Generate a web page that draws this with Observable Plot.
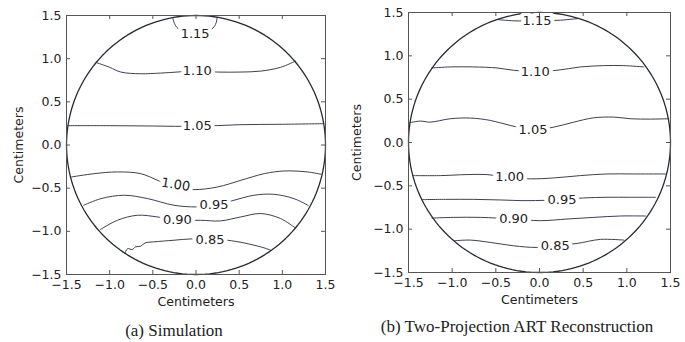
<!DOCTYPE html>
<html>
<head>
<meta charset="utf-8">
<script src="https://cdn.jsdelivr.net/npm/d3@7"></script>
<script src="https://cdn.jsdelivr.net/npm/@observablehq/plot@0.6"></script>
<style>
  html, body { margin: 0; padding: 0; background: #fff; }
  #fig { position: relative; width: 685px; height: 342px; overflow: hidden; }
  .panel { position: absolute; top: 0; }
  .cap { position: absolute; font-family: "Liberation Serif", "DejaVu Serif", serif; font-size: 17px; line-height: 1; color: #222; white-space: nowrap; transform: translateX(-50%); }
</style>
</head>
<body>
<div id="fig">
  <div id="left" class="panel" style="left:0px"></div>
  <div id="right" class="panel" style="left:340px"></div>
  <div class="cap" style="left:174px; top:322px">(a) Simulation</div>
  <div class="cap" style="left:517px; top:318px">(b) Two-Projection ART Reconstruction</div>
</div>
<script>
// ---- data ----
const levels = ["1.15", "1.10", "1.05", "1.00", "0.95", "0.90", "0.85"];
const tickValues = [-1.5, -1.0, -0.5, 0.0, 0.5, 1.0, 1.5];
const radius = 1.5;

// (a) Simulation contour lines, one array per level (same order as levels)
const simX = [
  [-0.27, -0.25, -0.22, -0.15, -0.05, 0.05, 0.15, 0.21, 0.235, 0.245],
  [-1.15, -1.00, -0.87, -0.64, -0.41, 0.015, 0.25, 0.52, 0.75, 0.98, 1.153],
  [-1.483, -1.0, -0.5, 0.0, 0.5, 1.0, 1.48],
  [-1.44, -1.18, -0.91, -0.64, -0.42, -0.235, -0.023, 0.25, 0.52, 0.79, 1.02, 1.29, 1.45],
  [-1.30, -1.10, -0.83, -0.56, -0.255, 0.015, 0.21, 0.44, 0.67, 0.90, 1.134, 1.30],
  [-1.11, -0.91, -0.68, -0.45, -0.216, 0.054, 0.285, 0.52, 0.75, 0.98, 1.15],
  [-0.825, -0.79, -0.74, -0.70, -0.64, -0.59, -0.49, -0.255, -0.06, 0.16, 0.36, 0.555, 0.67, 0.75, 0.80, 0.87]
];
const simY = [
  [1.475, 1.41, 1.36, 1.315, 1.292, 1.292, 1.32, 1.37, 1.42, 1.478],
  [0.953, 0.90, 0.845, 0.825, 0.833, 0.856, 0.845, 0.845, 0.856, 0.90, 0.972],
  [0.224, 0.224, 0.22, 0.216, 0.235, 0.24, 0.247],
  [-0.37, -0.332, -0.312, -0.332, -0.42, -0.49, -0.517, -0.486, -0.409, -0.332, -0.301, -0.312, -0.339],
  [-0.698, -0.621, -0.582, -0.621, -0.698, -0.717, -0.698, -0.64, -0.582, -0.571, -0.621, -0.70],
  [-0.98, -0.872, -0.814, -0.833, -0.872, -0.872, -0.879, -0.833, -0.794, -0.852, -0.96],
  [-1.253, -1.20, -1.211, -1.18, -1.172, -1.134, -1.122, -1.103, -1.088, -1.095, -1.103, -1.134, -1.16, -1.18, -1.195, -1.22]
];
const simLabelX = [-0.01, 0.015, 0.015, -0.235, 0.208, -0.216, 0.162];
const simLabelY = [1.29, 0.856, 0.218, -0.46, -0.698, -0.872, -1.095];

// (b) Two-Projection ART Reconstruction contour lines
const artX = [
  [-0.487, -0.296, -0.029, 0.239, 0.449],
  [-1.232, -1.022, -0.755, -0.487, -0.296, -0.048, 0.20, 0.468, 0.735, 0.965, 1.194],
  [-1.488, -1.366, -1.251, -1.022, -0.793, -0.564, -0.334, -0.075, 0.162, 0.392, 0.621, 0.85, 1.041, 1.27, 1.481],
  [-1.45, -1.137, -0.831, -0.602, -0.342, -0.105, 0.162, 0.468, 0.774, 1.079, 1.442],
  [-1.347, -1.06, -0.755, -0.449, -0.143, 0.258, 0.506, 0.774, 1.041, 1.328],
  [-1.232, -0.984, -0.678, -0.296, 0.01, 0.315, 0.621, 0.927, 1.213],
  [-0.973, -0.793, -0.564, -0.296, -0.029, 0.181, 0.43, 0.697, 0.965]
];
const artY = [
  [1.419, 1.404, 1.404, 1.411, 1.431],
  [0.86, 0.872, 0.872, 0.86, 0.833, 0.821, 0.833, 0.872, 0.887, 0.887, 0.872],
  [0.228, 0.247, 0.235, 0.274, 0.282, 0.255, 0.197, 0.147, 0.177, 0.235, 0.285, 0.293, 0.274, 0.27, 0.274],
  [-0.382, -0.382, -0.37, -0.37, -0.401, -0.42, -0.409, -0.382, -0.363, -0.363, -0.363],
  [-0.659, -0.656, -0.656, -0.663, -0.671, -0.659, -0.64, -0.632, -0.632, -0.632],
  [-0.872, -0.864, -0.864, -0.883, -0.902, -0.883, -0.864, -0.848, -0.848],
  [-1.134, -1.126, -1.153, -1.192, -1.211, -1.192, -1.165, -1.118, -1.126]
];
const artLabelX = [-0.029, -0.048, -0.075, -0.342, 0.258, -0.296, 0.181];
const artLabelY = [1.404, 0.821, 0.147, -0.401, -0.659, -0.883, -1.192];

// ---- build tables ----
function toRows(xs, ys) {
  const rows = [];
  xs.forEach((arr, i) => arr.forEach((x, j) => rows.push({level: levels[i], x, y: ys[i][j]})));
  return rows;
}
function toLabels(lx, ly) {
  return levels.map((level, i) => ({level, x: lx[i], y: ly[i]}));
}
const circle = d3.range(0, 361, 2).map(a => ({x: radius * Math.cos(a * Math.PI / 180), y: radius * Math.sin(a * Math.PI / 180)}));

const sans = "DejaVu Sans, Verdana, sans-serif";
const fmt = d3.format(".1f");

function panel({width, height, mt, mb, ml, mr, rows, labels, rotateFn, ylabelOffset}) {
  const fh = height - mt - mb;
  const fw = width - ml - mr;
  return Plot.plot({
    width, height,
    marginTop: mt, marginBottom: mb, marginLeft: ml, marginRight: mr,
    style: {fontFamily: sans, fontSize: "12.5px", color: "#222", background: "#fff"},
    x: {domain: [-1.5, 1.5]},
    y: {domain: [-1.5, 1.5]},
    marks: [
      Plot.line(rows, {x: "x", y: "y", z: "level", stroke: "#3b4150", strokeWidth: 1, curve: "catmull-rom"}),
      Plot.line(circle, {x: "x", y: "y", stroke: "#262a33", strokeWidth: 1.3}),
      Plot.text(labels, {x: "x", y: "y", text: "level", fill: "#222", stroke: "white", strokeWidth: 8, strokeLinejoin: "round", fontSize: 13, rotate: rotateFn}),
      Plot.frame({stroke: "#555"}),
      Plot.tickX(tickValues, {x: d => d, insetBottom: fh - 4, stroke: "#555"}),
      Plot.tickX(tickValues, {x: d => d, insetTop: fh - 4, stroke: "#555"}),
      Plot.tickY(tickValues, {y: d => d, insetRight: fw - 4, stroke: "#555"}),
      Plot.tickY(tickValues, {y: d => d, insetLeft: fw - 4, stroke: "#555"}),
      Plot.axisX({ticks: tickValues, tickFormat: fmt, tickSize: 0, tickPadding: 6, fontSize: 12.5,
        label: "Centimeters", labelAnchor: "center", labelOffset: 31, labelArrow: "none"}),
      Plot.axisY({ticks: tickValues, tickFormat: fmt, tickSize: 0, tickPadding: 5, fontSize: 12.5,
        label: "Centimeters", labelAnchor: "center", labelOffset: ylabelOffset, labelArrow: "none"})
    ]
  });
}

document.getElementById("left").appendChild(panel({
  width: 340, height: 310, mt: 15, mb: 36, ml: 66, mr: 15,
  rows: toRows(simX, simY), labels: toLabels(simLabelX, simLabelY),
  rotateFn: d => d.level === "1.00" ? 9 : 0, ylabelOffset: 52
}));
document.getElementById("right").appendChild(panel({
  width: 345, height: 310, mt: 12, mb: 38, ml: 68, mr: 15,
  rows: toRows(artX, artY), labels: toLabels(artLabelX, artLabelY),
  rotateFn: d => 0, ylabelOffset: 56
}));
</script>
</body>
</html>
